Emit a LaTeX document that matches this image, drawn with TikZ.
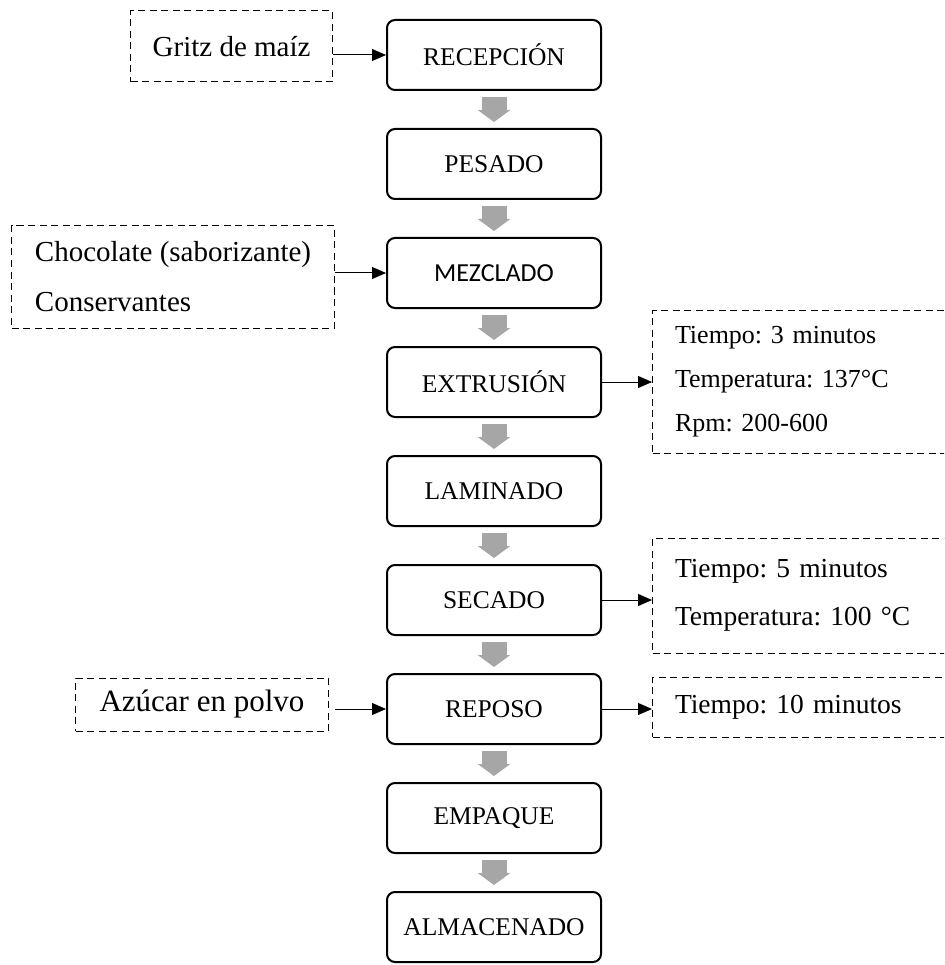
\documentclass[tikz,border=0pt]{standalone}
\usepackage{fontspec}
\setmainfont{Liberation Serif}
\newfontfamily\carlito{Carlito}
\usetikzlibrary{positioning,arrows.meta}
\definecolor{FlowGray}{RGB}{166,166,166}
\frenchspacing
\tikzset{
  stepbox/.style={draw,line width=2pt,rounded corners=8pt,minimum width=214pt,
    minimum height=70pt,align=center,font=\fontsize{25.5}{29}\selectfont},
  inbox/.style={draw,line width=1pt,dash pattern=on 7pt off 4.5pt,align=left,
    inner xsep=22pt,font=\fontsize{29}{50}\selectfont},
  parambox/.style={draw,line width=1pt,dash pattern=on 7pt off 4.5pt,
    minimum width=310pt,text width=265pt,align=left,inner xsep=22.5pt},
  flow/.style={-{Triangle[length=14pt,width=12pt]},line width=1pt},
  grayflow/.style={-{Triangle[length=12pt,width=32pt]},line width=25pt,
    draw=FlowGray,shorten <=6pt,shorten >=6pt}
}

\begin{document}
\begin{tikzpicture}[x=1pt,y=1pt,node distance=37pt]
  \useasboundingbox (0,0) rectangle (944,-965);
  \clip (0,0) rectangle (944,-965);
  % main process column
  \node[stepbox] (recep) at (494,-55) {RECEPCIÓN};
  \node[stepbox,below=of recep] (pesado) {PESADO};
  \node[stepbox,below=of pesado,font=\carlito\fontsize{26}{29}\selectfont] (mezcla) {MEZCLADO};
  \node[stepbox,below=of mezcla] (extru) {EXTRUSIÓN};
  \node[stepbox,below=of extru] (lamin) {LAMINADO};
  \node[stepbox,below=of lamin] (secado) {SECADO};
  \node[stepbox,below=of secado] (reposo) {REPOSO};
  \node[stepbox,below=of reposo] (empaque) {EMPAQUE};
  \node[stepbox,below=of empaque] (almacen) {ALMACENADO};
  % inputs
  \node[inbox,left=53pt of recep,yshift=8.5pt,minimum width=200pt,
    minimum height=71pt,align=center] (gritz) {Gritz de maíz};
  \node[inbox,left=51pt of mezcla,yshift=-4pt,minimum width=323pt,
    minimum height=102pt] (choco) {Chocolate (saborizante)\\Conservantes};
  \node[inbox,left=57pt of reposo,yshift=4.5pt,minimum width=253pt,
    minimum height=53pt,align=center,font=\fontsize{31}{36}\selectfont] (azucar) {Azúcar en polvo};
  % conditions
  \node[parambox,right=50pt of extru,minimum height=143pt,
    font=\fontsize{26}{44}\selectfont] (extparam)
    {Tiempo: 3 minutos\\Temperatura: 137°C\\Rpm: 200-600};
  \node[parambox,right=50pt of secado,yshift=4.5pt,minimum height=115pt,
    font=\fontsize{27.5}{48}\selectfont] (secparam)
    {Tiempo: 5 minutos\\Temperatura: 100 °C};
  \node[parambox,right=50pt of reposo,yshift=2pt,minimum height=60pt,
    font=\fontsize{27.5}{33}\selectfont] (repparam) {Tiempo: 10 minutos};
  % gray arrows
  \draw[grayflow] (recep) -- (pesado);
  \draw[grayflow] (pesado) -- (mezcla);
  \draw[grayflow] (mezcla) -- (extru);
  \draw[grayflow] (extru) -- (lamin);
  \draw[grayflow] (lamin) -- (secado);
  \draw[grayflow] (secado) -- (reposo);
  \draw[grayflow] (reposo) -- (empaque);
  \draw[grayflow] (empaque) -- (almacen);
  % side arrows
  \draw[flow] (gritz.east |- recep) -- (recep.west);
  \draw[flow] (choco.east |- mezcla) -- (mezcla.west);
  \draw[flow] (extru.east) -- (extru.east -| extparam.west);
  \draw[flow] (secado.east) -- (secado.east -| secparam.west);
  \draw[flow,shorten <=6pt] (azucar.east |- reposo) -- (reposo.west);
  \draw[flow] (reposo.east) -- (reposo.east -| repparam.west);
\end{tikzpicture}
\end{document}
